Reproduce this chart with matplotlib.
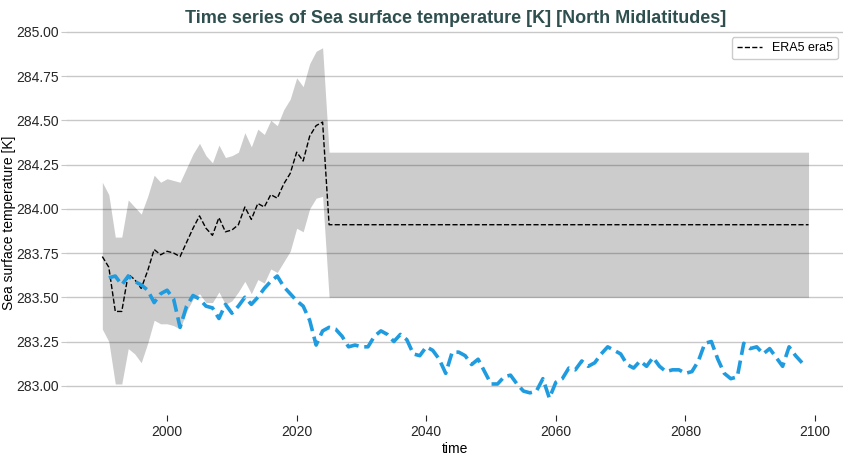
import matplotlib
matplotlib.use("Agg")
import matplotlib.pyplot as plt
import numpy as np

plt.rcParams['font.family'] = ['Liberation Sans', 'DejaVu Sans']

#ERA5 observed values and spread, 1990 to 2024
obsYears = list(range(1990, 2025))
era5 = [283.73, 283.67, 283.42, 283.42, 283.63, 283.60, 283.55, 283.65, 283.77, 283.74,
        283.76, 283.75, 283.73, 283.81, 283.89, 283.96, 283.89, 283.85, 283.95, 283.87,
        283.88, 283.91, 284.01, 283.94, 284.03, 284.01, 284.08, 284.06, 284.14, 284.20,
        284.32, 284.27, 284.41, 284.47, 284.49]
era5Upper = [284.15, 284.08, 283.84, 283.84, 284.05, 284.01, 283.97, 284.07, 284.19, 284.15,
             284.17, 284.16, 284.15, 284.23, 284.31, 284.37, 284.30, 284.26, 284.36, 284.29,
             284.30, 284.32, 284.43, 284.35, 284.45, 284.42, 284.50, 284.47, 284.56, 284.62,
             284.74, 284.69, 284.82, 284.89, 284.91]
era5Lower = [283.32, 283.25, 283.01, 283.01, 283.21, 283.18, 283.13, 283.24, 283.37, 283.35,
             283.35, 283.34, 283.32, 283.42, 283.49, 283.52, 283.47, 283.47, 283.53, 283.46,
             283.48, 283.53, 283.59, 283.52, 283.60, 283.58, 283.66, 283.64, 283.70, 283.76,
             283.89, 283.87, 284.00, 284.06, 284.07]

#After 2024 the ERA5 series is held at its climatology
tailYears = list(range(2025, 2100))
era5Tail = [283.91] * len(tailYears)
era5UpperTail = [284.32] * len(tailYears)
era5LowerTail = [283.50] * len(tailYears)

#Model series, 1991 to 2098
modelYears = list(range(1991, 2099))
model = [283.61, 283.62, 283.57, 283.62, 283.59, 283.57, 283.54, 283.47, 283.52, 283.54,
         283.49, 283.33, 283.45, 283.51, 283.49, 283.45, 283.44, 283.38, 283.46, 283.41,
         283.45, 283.50, 283.46, 283.50, 283.55, 283.59, 283.62, 283.56, 283.52, 283.48,
         283.45, 283.37, 283.23, 283.31, 283.33, 283.32, 283.28, 283.22, 283.23, 283.22,
         283.22, 283.28, 283.31, 283.29, 283.25, 283.29, 283.26, 283.18, 283.17, 283.22,
         283.20, 283.15, 283.07, 283.19, 283.19, 283.17, 283.12, 283.15, 283.08, 283.01,
         283.01, 283.05, 283.06, 283.01, 282.97, 282.96, 282.97, 283.04, 282.93, 283.02,
         283.04, 283.10, 283.09, 283.14, 283.11, 283.13, 283.18, 283.22, 283.20, 283.18,
         283.12, 283.10, 283.14, 283.11, 283.16, 283.11, 283.08, 283.09, 283.09, 283.07,
         283.08, 283.14, 283.24, 283.25, 283.15, 283.07, 283.04, 283.05, 283.24, 283.21,
         283.22, 283.18, 283.21, 283.16, 283.11, 283.22, 283.17, 283.13]

allYears = obsYears + tailYears
allEra5 = era5 + era5Tail
allUpper = era5Upper + era5UpperTail
allLower = era5Lower + era5LowerTail

#This sets up the graphing environment.
fig = plt.figure(figsize=(8.43, 4.55), dpi=100)
ax = fig.add_axes([0.0795, 0.088, 0.9215, 0.844])

ax.fill_between(allYears, allLower, allUpper, color='black', alpha=0.2, linewidth=0, zorder=1)
ax.plot(allYears, allEra5, color='black', linestyle='--', linewidth=1.0, label="ERA5 era5", zorder=3)
ax.plot(modelYears, model, color='#1f9be0', linestyle='--', linewidth=2.6, zorder=3)

ax.set_xlim(1984.55, 2104.45)
ax.set_ylim(282.835, 285.005)
ax.set_yticks([283.00, 283.25, 283.50, 283.75, 284.00, 284.25, 284.50, 284.75, 285.00])
ax.set_xticks([2000, 2020, 2040, 2060, 2080, 2100])
ax.yaxis.set_major_formatter(matplotlib.ticker.FormatStrFormatter('%.2f'))

#Only horizontal grid lines and no frame
ax.grid(axis='y', color='#c8c8c8', linewidth=1.0, zorder=0)
ax.set_axisbelow(True)
for side in ['top', 'right', 'left', 'bottom']:
    ax.spines[side].set_visible(False)
ax.tick_params(axis='y', colors='#c8c8c8', labelcolor='#262626', length=4, pad=2, labelsize=10)
ax.tick_params(axis='x', colors='#262626', length=4, labelsize=10)

ax.legend(loc='upper right', fontsize=9, fancybox=True, framealpha=1, edgecolor='#cccccc')

#This adds titles and axis labels.
ax.set_title("Time series of Sea surface temperature [K] [North Midlatitudes]",
             fontsize=13, fontweight='bold', color='darkslategray', pad=6)
ax.set_xlabel("time", fontsize=10, labelpad=2)
ax.set_ylabel("Sea surface temperature [K]", fontsize=10, labelpad=0)

fig.savefig("out.png", dpi=100)
